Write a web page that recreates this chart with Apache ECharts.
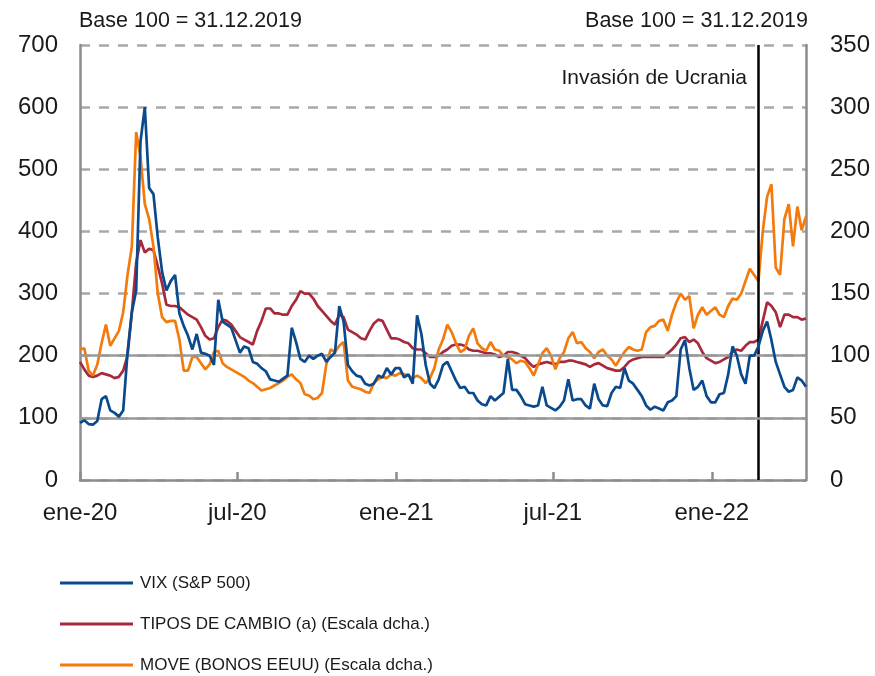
<!DOCTYPE html>
<html><head><meta charset="utf-8">
<script src="https://cdn.jsdelivr.net/npm/echarts@6/dist/echarts.min.js"></script>
<style>html,body{margin:0;padding:0;background:#fff}#c{width:875px;height:676px}</style>
</head><body><div id="c"></div><script>
// Sampling: one point every 5 days starting 2020-01-01
const startDate = '2020-01-01';
const stepDays = 5;
const xEnd = '2022-04-20';
const invasionDate = '2022-02-24';

const tickDates = ['2020-01-01', '2020-07-01', '2021-01-01', '2021-07-01', '2022-01-01'];
const tickLabels = ['ene-20', 'jul-20', 'ene-21', 'jul-21', 'ene-22'];

const seriesNames = ['VIX (S&P 500)', 'TIPOS DE CAMBIO (a) (Escala dcha.)', 'MOVE (BONOS EEUU) (Escala dcha.)'];

// VIX (left axis, base 100)
const vix = [
  92,96,90,89,95,130,135,112,108,102,112,205,270,305,545,600,470,460,390,335,305,
  320,330,268,248,232,210,235,205,203,200,185,290,255,250,245,225,205,215,212,190,187,180,175,162,160,158,163,168,245,222,195,190,
  200,195,200,203,190,198,205,280,255,185,175,168,166,155,152,155,168,165,180,170,180,180,165,170,155,265,235,185,155,148,162,185,190,
  175,160,148,150,140,140,128,122,120,135,128,134,140,195,145,145,135,122,120,118,120,150,120,116,112,118,128,162,128,130,130,120,115,155,
  130,120,119,140,150,148,180,160,155,145,135,120,113,118,115,112,125,128,135,210,225,180,145,150,160,135,125,
  125,138,140,170,215,200,170,155,200,200,215,240,255,225,190,170,150,142,145,165,160,150
];
// Tipos de cambio (right axis)
const fx = [
  95,89,84,83,84,86,85,84,82,83,88,100,135,175,193,183,186,185,172,158,141,
  140,140,139,136,133,131,129,123,116,113,114,123,129,128,125,120,115,113,111,109,120,128,138,138,134,134,133,133,140,145,152,150,
  150,146,140,136,132,128,125,133,131,121,119,117,114,113,120,126,129,128,121,114,114,113,111,110,106,105,105,102,99,99,100,103,105,
  108,109,109,108,105,104,104,103,102,102,101,99,100,103,103,102,100,98,94,91,93,94,95,94,93,95,95,96,96,95,94,93,91,93,
  94,92,90,89,88,88,91,95,97,98,99,99,99,99,99,99,102,105,109,114,115,111,113,110,103,98,96,
  94,95,97,99,103,105,104,108,111,111,113,128,143,140,135,123,133,133,131,131,129,130
];
// MOVE (right axis)
const move = [
  105,106,88,84,93,110,125,108,114,120,135,165,188,280,260,222,210,188,150,131,127,
  128,128,113,88,88,99,99,94,89,93,103,104,94,91,89,87,85,83,80,78,75,72,73,74,76,78,80,83,85,81,78,69,
  68,65,66,70,93,105,103,108,111,80,75,74,73,71,70,78,81,83,82,85,84,86,85,84,82,84,82,78,82,90,105,113,125,
  119,110,103,105,116,122,110,106,104,111,105,104,100,99,97,94,96,95,90,84,93,102,106,100,89,98,103,114,119,110,111,106,103,98,
  103,105,100,97,92,98,103,107,105,104,105,119,123,124,128,129,120,133,143,150,145,148,122,133,139,133,136,
  139,133,131,140,146,145,150,160,170,165,160,200,228,238,171,165,210,222,188,220,201,212
];

const leftTicks = { min: 0, max: 700, interval: 100 };
const rightTicks = { min: 0, max: 350, interval: 50 };
const solidRefLeft = [100, 200];

const DAY = 86400000;
function ts(s) { const p = s.split('-').map(Number); return Date.UTC(p[0], p[1] - 1, p[2]); }
const t0 = ts(startDate);
const dates = vix.map((_, i) => t0 + i * stepDays * DAY);
const pairs = arr => arr.map((v, i) => [dates[i], v]);
const tickTs = tickDates.map(ts);

const FONT = "'Liberation Sans', Arial, Helvetica, sans-serif";
const colors = { vix: '#0a4a8c', fx: '#a8283c', move: '#f47a0c' };
const grey = '#8c8c8c';

const chart = echarts.init(document.getElementById('c'), null, { renderer: 'canvas' });
chart.setOption({
  animation: false,
  backgroundColor: '#fff',
  grid: { left: 80, right: 69, top: 45, bottom: 196, containLabel: false },
  legend: {
    data: seriesNames,
    orient: 'vertical', left: 60, top: 573, padding: 0,
    itemWidth: 73, itemHeight: 3, itemGap: 21, icon: 'rect',
    textStyle: { fontFamily: FONT, fontSize: 17, color: '#1a1a1a', lineHeight: 20, padding: [0, 0, 0, 2] },
    selectedMode: false
  },
  xAxis: {
    type: 'value', min: t0, max: ts(xEnd),
    axisLine: { show: true, lineStyle: { color: grey, width: 2.5 } },
    axisTick: { show: true, inside: true, length: 8, lineStyle: { color: grey, width: 2.5 }, customValues: tickTs },
    axisLabel: {
      customValues: tickTs, fontFamily: FONT, fontSize: 24, color: '#1a1a1a', margin: 21,
      showMinLabel: true, showMaxLabel: true, hideOverlap: false,
      formatter: v => { const k = tickTs.indexOf(+v); return k >= 0 ? tickLabels[k] : ''; }
    },
    splitLine: { show: false }
  },
  yAxis: [
    {
      type: 'value', min: leftTicks.min, max: leftTicks.max, interval: leftTicks.interval,
      axisLine: { show: true, lineStyle: { color: grey, width: 2.5 } },
      axisTick: { show: false },
      axisLabel: { fontFamily: FONT, fontSize: 24, color: '#1a1a1a', margin: 22 },
      splitLine: { show: true, lineStyle: { color: '#a8a8a8', width: 2.5, type: [10, 9] } }
    },
    {
      type: 'value', position: 'right', min: rightTicks.min, max: rightTicks.max, interval: rightTicks.interval,
      axisLine: { show: true, lineStyle: { color: grey, width: 2.5 } },
      axisTick: { show: false },
      axisLabel: { fontFamily: FONT, fontSize: 24, color: '#1a1a1a', margin: 24 },
      splitLine: { show: false }
    }
  ],
  series: [
    {
      name: seriesNames[1], type: 'line', yAxisIndex: 1, data: pairs(fx), showSymbol: false, symbol: 'none',
      lineStyle: { color: colors.fx, width: 2.7 }, itemStyle: { color: colors.fx }, z: 3
    },
    {
      name: seriesNames[2], type: 'line', yAxisIndex: 1, data: pairs(move), showSymbol: false, symbol: 'none',
      lineStyle: { color: colors.move, width: 2.7 }, itemStyle: { color: colors.move }, z: 4
    },
    {
      name: seriesNames[0], type: 'line', yAxisIndex: 0, data: pairs(vix), showSymbol: false, symbol: 'none',
      lineStyle: { color: colors.vix, width: 2.7 }, itemStyle: { color: colors.vix }, z: 5,
      markLine: {
        silent: true, symbol: 'none', label: { show: false }, animation: false,
        data: [
          { xAxis: ts(invasionDate), lineStyle: { color: '#000', width: 2.5, type: 'solid' } }
        ]
      }
    },
    {
      name: 'ref', type: 'line', yAxisIndex: 0, data: [], z: 2,
      markLine: {
        silent: true, symbol: 'none', label: { show: false }, animation: false,
        lineStyle: { color: '#999', width: 2.5, type: 'solid' },
        data: solidRefLeft.map(v => ({ yAxis: v }))
      }
    }
  ],
  graphic: [
    { type: 'text', left: 79, top: 10, style: { text: 'Base 100 = 31.12.2019', font: `21.5px ${FONT}`, fill: '#1a1a1a' } },
    { type: 'text', right: 67, top: 10, style: { text: 'Base 100 = 31.12.2019', font: `21.5px ${FONT}`, fill: '#1a1a1a' } },
    { type: 'text', right: 128, top: 68, style: { text: 'Invasión de Ucrania', font: `21px ${FONT}`, fill: '#1a1a1a' } }
  ]
});
</script></body></html>
